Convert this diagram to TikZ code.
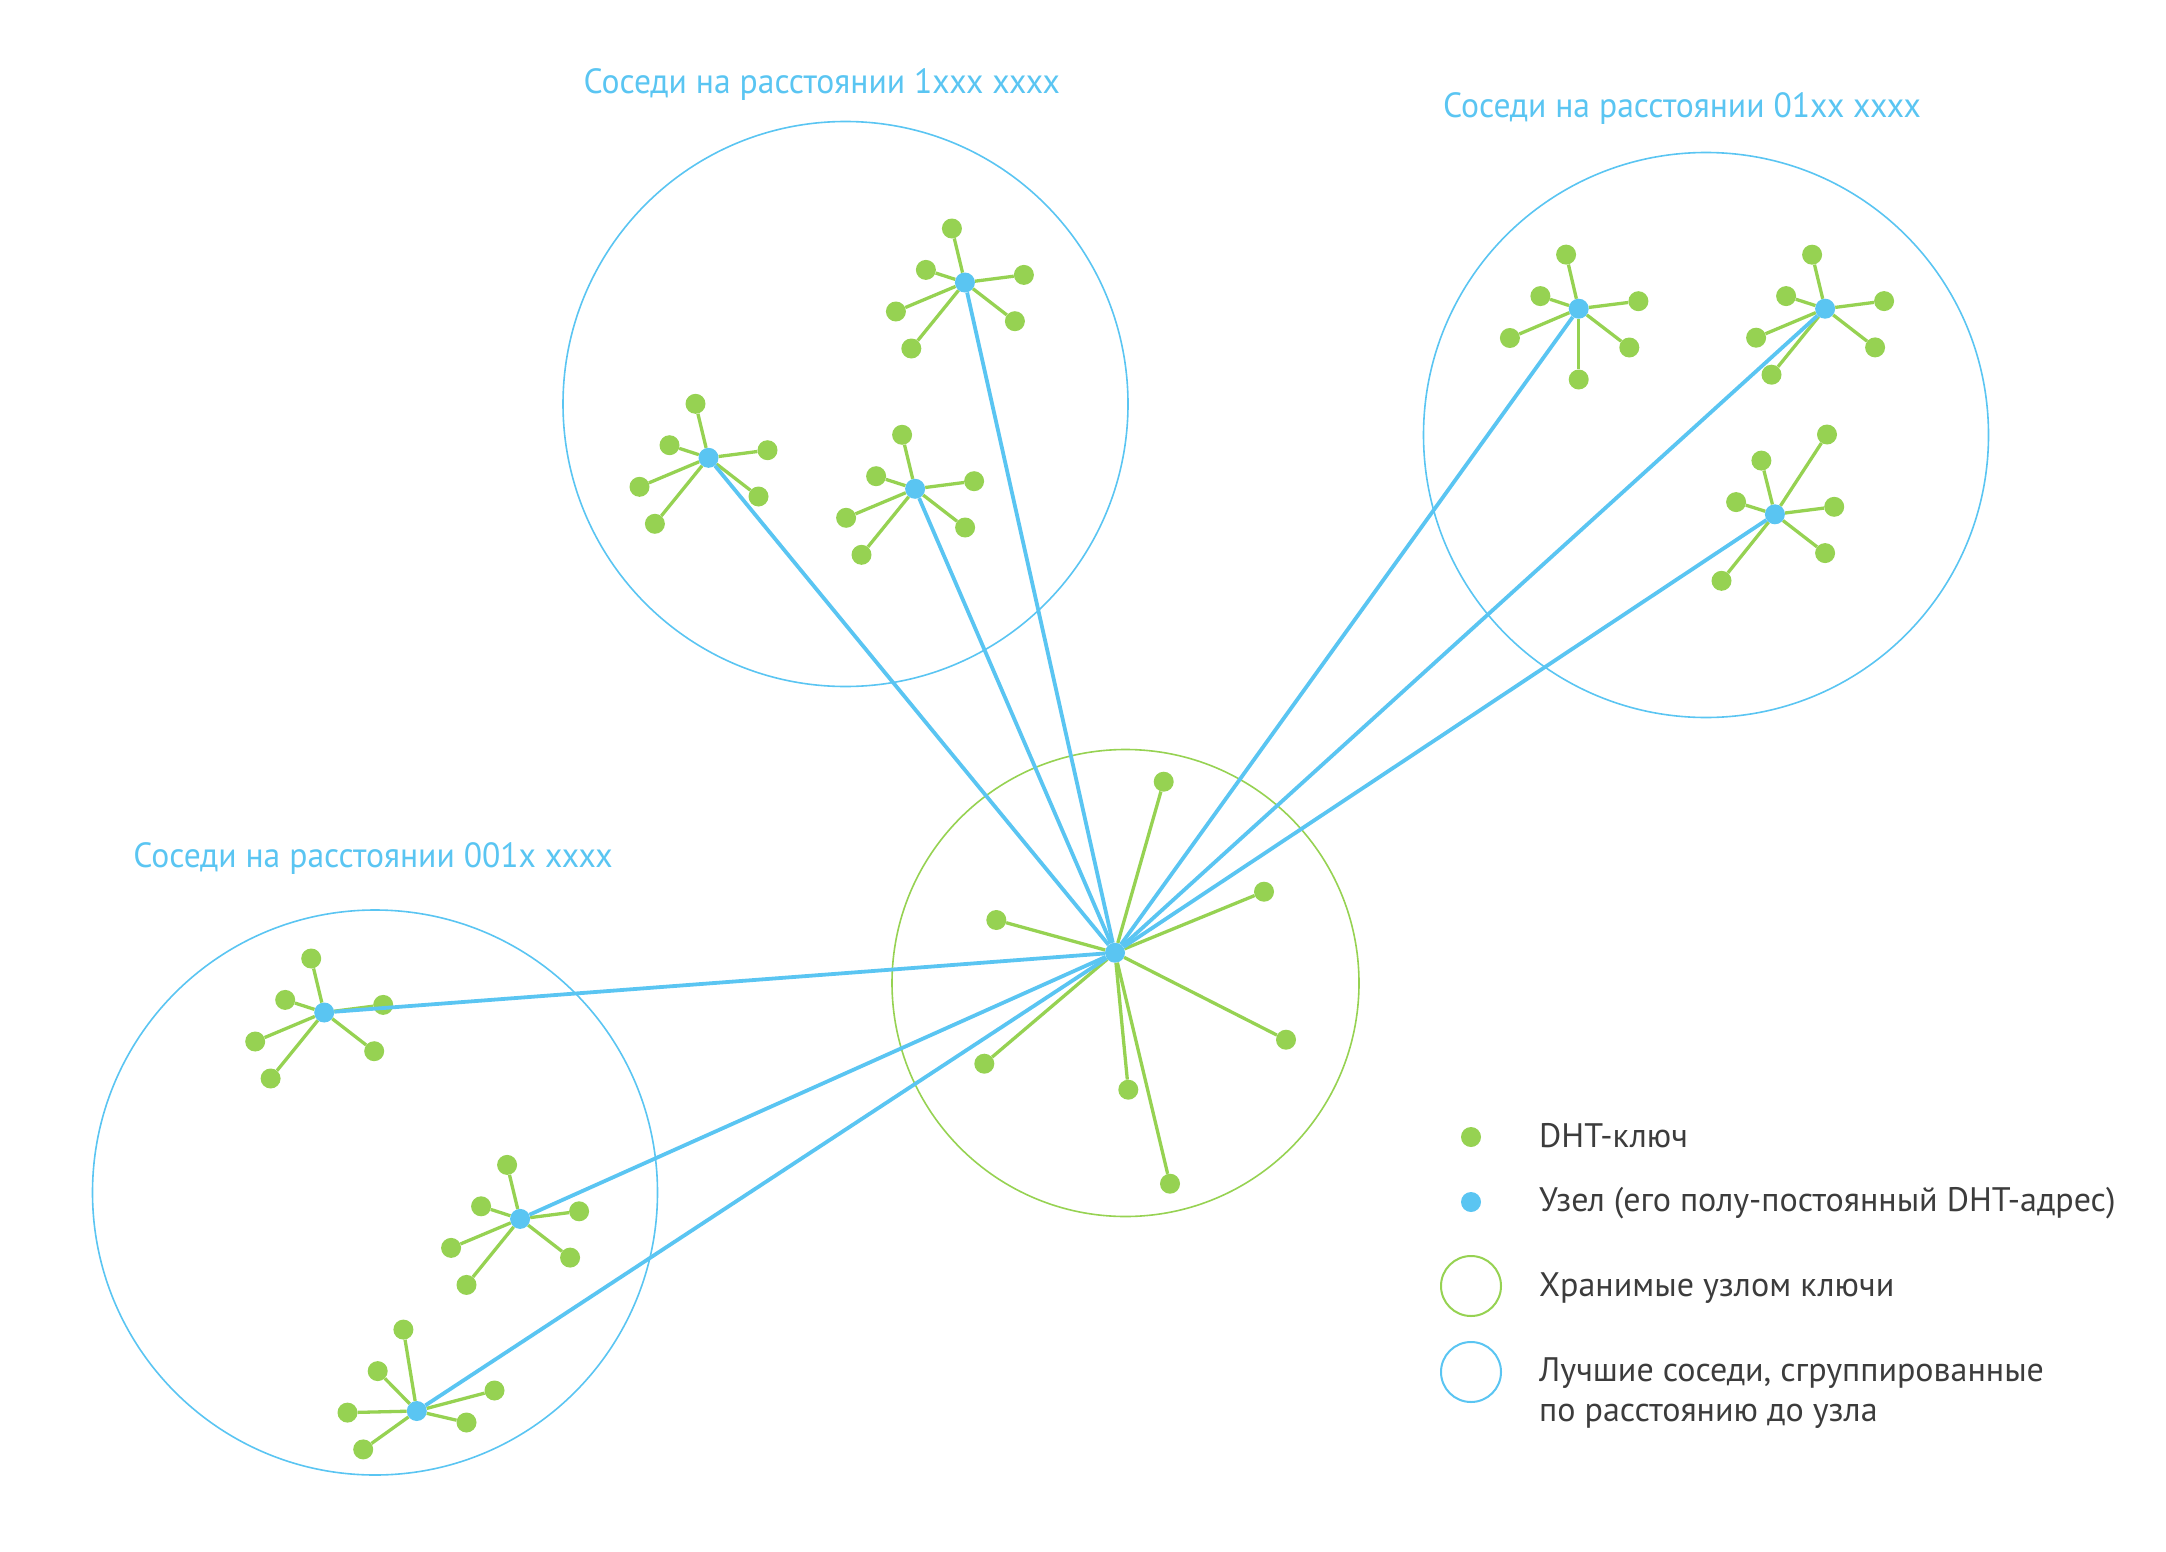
\documentclass[tikz,border=0pt]{standalone}
\usepackage{fontspec}
\setmainfont{PT Sans}
\newfontfamily\labfont{PT Sans}[FakeStretch=0.96]
\usetikzlibrary{calc}
\definecolor{kblue}{RGB}{90,197,242}
\definecolor{kgreen}{RGB}{150,210,82}
\definecolor{ktext}{RGB}{60,60,60}
\tikzset{
  key/.style={circle, fill=kgreen, inner sep=0pt, minimum size=20pt},
  peer/.style={circle, fill=kblue, inner sep=0pt, minimum size=20pt},
  keyedge/.style={draw=kgreen, line width=3.3pt},
  peeredge/.style={draw=kblue, line width=3.8pt},
  groupring/.style={circle, draw=kblue, line width=1.6pt, minimum size=565pt, inner sep=0pt},
  storering/.style={circle, draw=kgreen, line width=1.6pt, minimum size=467pt, inner sep=0pt},
  grouplabel/.style={text=kblue, font=\labfont\fontsize{35}{42}\selectfont, anchor=base, inner sep=0pt},
  legendtext/.style={text=ktext, font=\fontsize{34}{40}\selectfont, anchor=base west, inner sep=0pt},
  legendring/.style={circle, line width=2pt, minimum size=60pt, inner sep=0pt},
}
\newcommand\starcluster[3]{%
  \node[peer] (#1) at (#2) {};
  \foreach \dx/\dy [count=\i] in {#3} {
    \node[key] (#1-\i) at ($(#1)+(\dx,\dy)$) {};
    \draw[keyedge] (#1) -- (#1-\i);
  }%
}
\begin{document}
\begin{tikzpicture}[x=1pt, y=-1pt]
\useasboundingbox (0,0) rectangle (2166,1552);
% rings
\node[groupring] (ring1) at (845.5,404) {};
\node[groupring] (ring2) at (1706,435) {};
\node[groupring] (ring3) at (375,1192.5) {};
\node[storering] (ringN) at (1125.5,983) {};
% clusters
\starcluster{A}{708.5,457.8}{-13/-54, -39/-12.6, 59/-7.6, -69/29, 50/38.7, -53.6/66}
\starcluster{B}{915.1,488.8}{-13/-54, -39/-12.6, 59/-7.6, -69/29, 50/38.7, -53.6/66}
\starcluster{C}{964.9,282.5}{-13/-54, -39/-12.6, 59/-7.6, -69/29, 50/38.7, -53.6/66}
\starcluster{D}{1578.7,308.7}{-12.6/-54.1, -38.3/-12.6, 59.7/-7.5, -68.8/29.3, 50.6/38.8, 0/70.8}
\starcluster{E}{1825.1,308.7}{-13/-54, -39/-12.6, 59/-7.6, -69/29, 50/38.7, -53.6/66}
\starcluster{F}{1774.9,514.3}{52.1/-79.8, -13.5/-53.7, -38.8/-12.2, 59.3/-7.5, 50.2/38.8, -53.4/66.5}
\starcluster{G}{324.2,1012.5}{-13/-54, -39/-12.6, 59/-7.6, -69/29, 50/38.7, -53.6/66}
\starcluster{H}{520.1,1218.9}{-13/-54, -39/-12.6, 59/-7.6, -69/29, 50/38.7, -53.6/66}
\starcluster{I}{416.8,1411}{-13.4/-81.4, -39.1/-39.9, 77.7/-20.5, -69.3/1.6, 49.7/11.5, -53.6/38.4}
% central node
\starcluster{N}{1115,952.7}{48.7/-171, -118.7/-32.7, 149/-61, 171/87, -130.7/111, 13.3/137, 55/231}
\foreach \p in {A,B,C,D,E,F,G,H,I} \draw[peeredge] (N) -- (\p);
% group labels
\node[grouplabel] (lab1) at (821.8,93.3) {Соседи на расстоянии 1xxx xxxx};
\node[grouplabel] (lab2) at (1682,117.7) {Соседи на расстоянии 01xx xxxx};
\node[grouplabel] (lab3) at (373,867.7) {Соседи на расстоянии 001x xxxx};
% legend
\node[key] (lgkey) at (1471,1137) {};
\node[peer] (lgpeer) at (1471,1202) {};
\node[legendring, draw=kgreen] (lgstore) at (1471,1286) {};
\node[legendring, draw=kblue] (lggroup) at (1471,1372) {};
\node[legendtext] (tkey) at (1539,1147) {DHT-ключ};
\node[legendtext] (tpeer) at (1539,1211) {Узел (его полу-постоянный DHT-адрес)};
\node[legendtext] (tstore) at (1539,1296) {Хранимые узлом ключи};
\node[legendtext] (tgroup1) at (1539,1381) {Лучшие соседи, сгруппированные};
\node[legendtext] (tgroup2) at (1539,1421) {по расстоянию до узла};
\end{tikzpicture}
\end{document}
